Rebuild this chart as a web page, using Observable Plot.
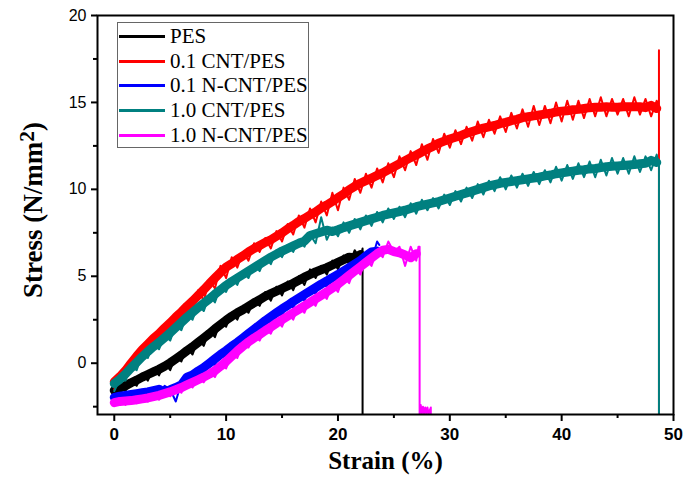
<!DOCTYPE html>
<html>
<head>
<meta charset="utf-8">
<script src="https://cdn.jsdelivr.net/npm/d3@7"></script>
<script src="https://cdn.jsdelivr.net/npm/@observablehq/plot@0.6"></script>
<style>
  html, body { margin: 0; padding: 0; background: #fff; }
  #wrap { position: relative; width: 683px; height: 486px; }
  #legend { position: absolute; left: 117px; top: 22px; width: 192px; height: 126px;
    border: 1px solid #666; background: #fff; font-family: "Liberation Serif", serif;
    font-size: 21px; color: #000; box-sizing: border-box; padding-top: 1px; }
  .row { display: flex; align-items: center; height: 24.7px; white-space: nowrap; }
  .sw { width: 46px; height: 3px; margin-left: 1px; margin-right: 5px; }
</style>
</head>
<body>
<div id="wrap"></div>
<script>
// ---- data (stress in N/mm^2, sampled every 0.5 % strain from 0) ----
const seriesNames = ["PES", "0.1 CNT/PES", "0.1 N-CNT/PES", "1.0 CNT/PES", "1.0 N-CNT/PES"];
const seriesColors = ["#000000", "#ff0000", "#0000ff", "#008080", "#ff00ff"];
const strainStep = 0.5;

const pesStress = [-1.8,-1.3,-1.6,-1.0,-1.3,-0.6,-1.0,-0.3,-0.7,0.0,-0.4,0.4,0.1,0.9,0.5,1.4,1.0,1.9,1.5,2.4,
  2.1,2.9,2.5,3.3,2.9,3.6,3.3,4.1,3.6,4.4,3.9,4.7,4.2,5.0,4.5,5.4,4.9,5.6,5.1,5.9,5.4,6.2,5.7,6.5,6.0];
const pesTailStrain = [22.2, 22.2];
const pesTailStress = [6.6, -2.95];

const cnt01Stress = [-1.5,-0.8,-0.9,0.1,-0.1,0.9,0.7,1.6,1.2,2.2,1.8,2.9,2.4,3.5,3.0,4.2,3.6,4.8,4.3,5.6,
  4.9,6.1,5.5,6.4,5.9,6.9,6.4,7.2,6.6,7.6,7.0,8.0,7.4,8.5,7.8,8.9,8.1,9.3,8.5,9.8,
  8.8,10.1,9.4,10.6,9.8,10.9,10.1,11.2,10.4,11.5,10.7,11.9,11.1,12.2,11.4,12.6,11.7,12.9,12.1,13.2,
  12.4,13.4,12.6,13.6,12.8,13.9,13.0,14.0,13.2,14.2,13.3,14.4,13.5,14.6,13.6,14.8,13.7,14.8,13.8,15.0,
  13.9,15.1,14.0,15.1,14.1,15.2,14.2,15.3,14.2,15.2,14.3,15.2,14.2,15.3,14.3,15.2,14.2,15.1];
const cnt01TailStrain = [48.7, 48.7, 48.7];
const cnt01TailStress = [14.6, 18.0, -2.95];

const ncnt01Stress = [-2.1,-1.8,-2.0,-1.7,-1.9,-1.6,-1.8,-1.5,-1.7,-1.3,-1.5,-2.2,-1.1,-0.8,-0.9,-0.4,-0.6,0.1,-0.1,0.6,
  0.4,1.1,0.8,1.6,1.3,2.1,1.8,2.6,2.3,3.1,2.7,3.5,3.2,3.9,3.6,4.3,4.0,4.7,4.4,5.1,
  4.7,5.5,5.1,5.9,5.5,6.3,5.9,7.0];
const ncnt01TailStrain = [23.7];
const ncnt01TailStress = [6.8];

const cnt10Stress = [-1.6,-0.9,-1.0,-0.2,-0.4,0.5,0.3,1.1,0.8,1.6,1.3,2.2,1.9,2.8,2.5,3.4,3.0,3.9,3.5,4.4,
  4.1,4.9,4.5,5.3,4.9,5.7,5.3,6.1,5.7,6.5,6.1,6.8,6.4,7.1,6.7,7.4,6.9,8.4,7.1,7.8,
  7.3,8.1,7.5,8.3,7.7,8.5,7.9,8.7,8.1,8.9,8.3,9.0,8.4,9.2,8.6,9.4,8.8,9.5,8.9,9.7,
  9.1,9.9,9.3,10.1,9.5,10.3,9.7,10.5,9.9,10.7,10.0,10.8,10.1,10.9,10.2,11.0,10.3,11.1,10.4,11.3,
  10.5,11.4,10.6,11.5,10.7,11.6,10.7,11.7,10.8,11.8,10.9,11.8,10.9,11.9,11.0,11.9,11.1,12.0];
const cnt10TailStrain = [48.7, 48.7];
const cnt10TailStress = [11.4, -2.95];

const ncnt10Stress = [-2.4,-2.0,-2.4,-2.0,-2.3,-1.9,-2.2,-1.8,-2.1,-1.6,-1.9,-1.4,-1.7,-1.1,-1.4,-0.8,-1.1,-0.5,-0.8,-0.1,
  -0.3,0.5,0.3,1.1,0.9,1.6,1.3,2.0,1.7,2.5,2.1,2.9,2.5,3.3,2.9,3.7,3.3,4.1,3.7,4.5,
  4.1,5.0,4.6,5.5,5.1,6.0,5.6,6.5,6.1,7.0,6.4,6.7,5.6,6.7,5.9];
const ncnt10TailStrain = [27.2, 27.3, 27.3, 27.4, 27.5, 27.6, 27.7, 27.8, 27.9, 28.0, 28.1, 28.3, 28.3];
const ncnt10TailStress = [6.7, 6.7, -2.95, -2.4, -2.9, -2.5, -2.9, -2.55, -2.9, -2.55, -2.9, -2.55, -2.95];

const xMajorTicks = [0, 10, 20, 30, 40, 50];
const xMinorTicks = [5, 15, 25, 35, 45];
const yMajorTicks = [0, 5, 10, 15, 20];
const yMinorTicks = [-2.5, 2.5, 7.5, 12.5, 17.5];

// ---- build table ----
const bodies = [
  [pesStress, pesTailStrain, pesTailStress],
  [cnt01Stress, cnt01TailStrain, cnt01TailStress],
  [ncnt01Stress, ncnt01TailStrain, ncnt01TailStress],
  [cnt10Stress, cnt10TailStrain, cnt10TailStress],
  [ncnt10Stress, ncnt10TailStrain, ncnt10TailStress]
];
const rows = [];
bodies.forEach(([vals, ts, tv], k) => {
  const name = seriesNames[k];
  vals.forEach((v, i) => rows.push({name, part: "body", strain: i * strainStep, stress: v}));
  ts.forEach((s, i) => rows.push({name, part: "tail", strain: s, stress: tv[i]}));
});

const serif = "Liberation Serif, Times New Roman, serif";
const sans = "Liberation Sans, Arial, sans-serif";

const dataMarks = [];
seriesNames.forEach(n => {
  const body = rows.filter(r => r.name === n && r.part === "body");
  const all = rows.filter(r => r.name === n);
  dataMarks.push(Plot.line(body, Plot.windowY({k: 4, reduce: "mean"},
    {x: "strain", y: "stress", stroke: "name", strokeWidth: 9, clip: true})));
  dataMarks.push(Plot.line(all, {x: "strain", y: "stress", stroke: "name", strokeWidth: 2, clip: true}));
});

const chart = Plot.plot({
  width: 683,
  height: 486,
  marginLeft: 97,
  marginRight: 10,
  marginTop: 15,
  marginBottom: 72,
  style: {background: "#fff", overflow: "visible"},
  x: {domain: [-1.5, 50]},
  y: {domain: [-2.95, 20]},
  color: {domain: seriesNames, range: seriesColors},
  marks: [
    ...dataMarks,
    Plot.frame({stroke: "#000", strokeWidth: 2}),
    Plot.axisX({ticks: xMajorTicks, tickSize: 7, tickPadding: 6, tickFormat: d => d, label: null,
      fontFamily: sans, fontWeight: "bold", fontSize: 17, strokeWidth: 2, color: "#000"}),
    Plot.axisX({ticks: xMinorTicks, tickSize: 4, text: null, label: null, strokeWidth: 2}),
    Plot.axisY({ticks: yMajorTicks, tickSize: 6, tickPadding: 5, tickFormat: d => d, label: null,
      fontFamily: sans, fontSize: 16, strokeWidth: 2, color: "#000"}),
    Plot.axisY({ticks: yMinorTicks, tickSize: 4, text: null, label: null, strokeWidth: 2}),
    Plot.text(["Strain (%)"], {frameAnchor: "bottom", dy: 54, fontFamily: serif, fontWeight: "bold", fontSize: 25, fill: "#000"}),
    Plot.text(["Stress (N/mm2)"], {frameAnchor: "left", textAnchor: "middle", rotate: -90, dx: -64, dy: -5,
      fontFamily: serif, fontWeight: "bold", fontSize: 27, fill: "#000"})
  ]
});

// superscript in y title
d3.select(chart).selectAll("text").filter(function() { return this.textContent === "Stress (N/mm2)"; })
  .each(function() {
    const t = d3.select(this);
    t.text(null);
    t.append("tspan").text("Stress (N/mm");
    t.append("tspan").attr("dy", "-0.4em").attr("font-size", "0.8em").text("2");
    t.append("tspan").attr("dy", "0.32em").text(")");
  });

const wrap = document.getElementById("wrap");
wrap.appendChild(chart);

const legend = document.createElement("div");
legend.id = "legend";
seriesNames.forEach((n, i) => {
  const r = document.createElement("div");
  r.className = "row";
  const sw = document.createElement("div");
  sw.className = "sw";
  sw.style.background = seriesColors[i];
  const lab = document.createElement("span");
  lab.textContent = n;
  r.appendChild(sw);
  r.appendChild(lab);
  legend.appendChild(r);
});
wrap.appendChild(legend);
</script>
</body>
</html>
